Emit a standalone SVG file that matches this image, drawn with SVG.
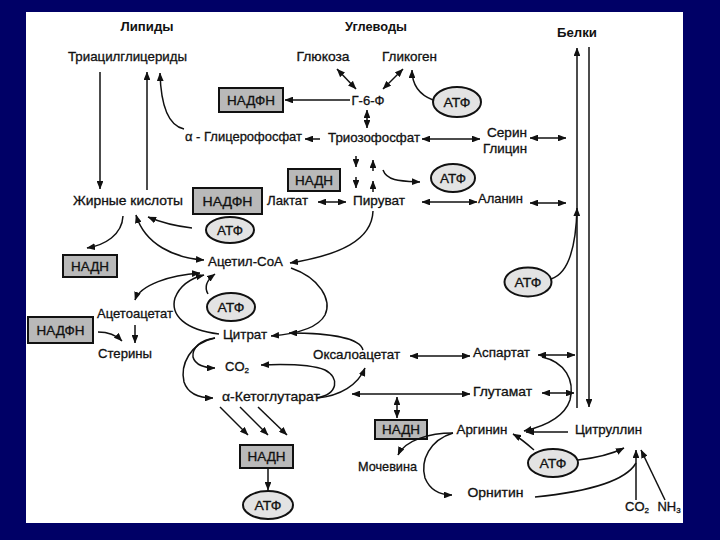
<svg xmlns="http://www.w3.org/2000/svg" width="720" height="540" viewBox="0 0 720 540">
<defs>
<marker id="ah" viewBox="0 0 10 8" refX="9.5" refY="4" markerWidth="8.5" markerHeight="6.8" markerUnits="userSpaceOnUse" orient="auto-start-reverse"><path d="M0,0 L10,4 L0,8 z" fill="#111"/></marker>
<style>
text{font-family:"Liberation Sans",Arial,sans-serif;font-size:13px;fill:#111;stroke:#111;stroke-width:0.3;text-anchor:middle}
.h{font-weight:bold;stroke-width:0}
.box{fill:#b9b9b9;stroke:#111;stroke-width:2}
.ell{fill:#e3e3e3;stroke:#111;stroke-width:2}
.c{fill:none;stroke:#111;stroke-width:1.5}
.e{marker-end:url(#ah)}
.d{marker-start:url(#ah);marker-end:url(#ah)}
</style>
</defs>
<rect x="0" y="0" width="720" height="540" fill="#000066"/>
<rect x="26" y="12" width="657" height="511" fill="#ffffff"/>

<g id="headers">
<text class="h" x="147" y="31" textLength="53" lengthAdjust="spacingAndGlyphs">Липиды</text>
<text class="h" x="376" y="31" textLength="62" lengthAdjust="spacingAndGlyphs">Углеводы</text>
<text class="h" x="577" y="37" textLength="40" lengthAdjust="spacingAndGlyphs">Белки</text>
</g>

<g id="n-triacyl"><text x="127.5" y="61" textLength="119" lengthAdjust="spacingAndGlyphs">Триацилглицериды</text></g>
<g id="n-glucose"><text x="323" y="61" textLength="53" lengthAdjust="spacingAndGlyphs">Глюкоза</text></g>
<g id="n-glycogen"><text x="409.5" y="61" textLength="55" lengthAdjust="spacingAndGlyphs">Гликоген</text></g>
<g id="n-g6p"><text x="368" y="105" textLength="33" lengthAdjust="spacingAndGlyphs">Г-6-Ф</text></g>
<g id="n-glycerophosphate"><text x="243.5" y="141" textLength="117" lengthAdjust="spacingAndGlyphs">α - Глицерофосфат</text></g>
<g id="n-triosephosphate"><text x="374" y="142" textLength="92" lengthAdjust="spacingAndGlyphs">Триозофосфат</text></g>
<g id="n-serine"><text x="507" y="137" textLength="40" lengthAdjust="spacingAndGlyphs">Серин</text><text x="505" y="153" textLength="44" lengthAdjust="spacingAndGlyphs">Глицин</text></g>
<g id="n-fattyacids"><text x="128" y="205" textLength="110" lengthAdjust="spacingAndGlyphs">Жирные кислоты</text></g>
<g id="n-lactate"><text x="287.5" y="205" textLength="41" lengthAdjust="spacingAndGlyphs">Лактат</text></g>
<g id="n-pyruvate"><text x="379" y="205" textLength="52" lengthAdjust="spacingAndGlyphs">Пируват</text></g>
<g id="n-alanine"><text x="500.5" y="203" textLength="45" lengthAdjust="spacingAndGlyphs">Аланин</text></g>
<g id="n-acetylcoa"><text x="245.5" y="266" textLength="75" lengthAdjust="spacingAndGlyphs">Ацетил-СоА</text></g>
<g id="n-acetoacetate"><text x="135" y="318" textLength="76" lengthAdjust="spacingAndGlyphs">Ацетоацетат</text></g>
<g id="n-sterols"><text x="125" y="358" textLength="54" lengthAdjust="spacingAndGlyphs">Стерины</text></g>
<g id="n-citrate"><text x="245" y="339" textLength="44" lengthAdjust="spacingAndGlyphs">Цитрат</text></g>
<g id="n-co2"><text x="237" y="371">CO<tspan font-size="8" dy="2">2</tspan></text></g>
<g id="n-oxaloacetate"><text x="356.5" y="359" textLength="87" lengthAdjust="spacingAndGlyphs">Оксалоацетат</text></g>
<g id="n-aspartate"><text x="501.5" y="357" textLength="57" lengthAdjust="spacingAndGlyphs">Аспартат</text></g>
<g id="n-ketoglutarate"><text x="271" y="401" textLength="98" lengthAdjust="spacingAndGlyphs">α-Кетоглутарат</text></g>
<g id="n-glutamate"><text x="502.5" y="396" textLength="59" lengthAdjust="spacingAndGlyphs">Глутамат</text></g>
<g id="n-arginine"><text x="482" y="434" textLength="51" lengthAdjust="spacingAndGlyphs">Аргинин</text></g>
<g id="n-citrulline"><text x="608.5" y="434" textLength="67" lengthAdjust="spacingAndGlyphs">Цитруллин</text></g>
<g id="n-urea"><text x="387.5" y="471" textLength="59" lengthAdjust="spacingAndGlyphs">Мочевина</text></g>
<g id="n-ornithine"><text x="495.5" y="497" textLength="56" lengthAdjust="spacingAndGlyphs">Орнитин</text></g>
<g id="n-co2b"><text x="637" y="511">CO<tspan font-size="8" dy="2">2</tspan></text></g>
<g id="n-nh3"><text x="669" y="511">NH<tspan font-size="8" dy="2">3</tspan></text></g>

<g id="b-nadph1"><rect class="box" x="219" y="88" width="64" height="24"/><text x="251" y="105" textLength="48" lengthAdjust="spacingAndGlyphs">НАДФН</text></g>
<g id="b-nadh1"><rect class="box" x="288" y="169" width="52" height="22"/><text x="314" y="185" textLength="38" lengthAdjust="spacingAndGlyphs">НАДН</text></g>
<g id="b-nadph2"><rect class="box" x="193" y="188" width="69" height="26"/><text x="227.5" y="206" textLength="50" lengthAdjust="spacingAndGlyphs">НАДФН</text></g>
<g id="b-nadh2"><rect class="box" x="63" y="255" width="54" height="22"/><text x="90" y="271" textLength="38" lengthAdjust="spacingAndGlyphs">НАДН</text></g>
<g id="b-nadph3"><rect class="box" x="28" y="317" width="65" height="26"/><text x="60.5" y="335" textLength="48" lengthAdjust="spacingAndGlyphs">НАДФН</text></g>
<g id="b-nadh3"><rect class="box" x="375" y="420" width="52" height="19"/><text x="401" y="434" textLength="38" lengthAdjust="spacingAndGlyphs">НАДН</text></g>
<g id="b-nadh4"><rect class="box" x="240" y="445" width="53" height="23"/><text x="266.5" y="461" textLength="38" lengthAdjust="spacingAndGlyphs">НАДН</text></g>

<g id="a-atp1"><ellipse class="ell" cx="457" cy="102" rx="24" ry="15"/><text x="457" y="107" textLength="27" lengthAdjust="spacingAndGlyphs">АТФ</text></g>
<g id="a-atp2"><ellipse class="ell" cx="453" cy="178" rx="22" ry="14"/><text x="453" y="183" textLength="26" lengthAdjust="spacingAndGlyphs">АТФ</text></g>
<g id="a-atp3"><ellipse class="ell" cx="230" cy="230" rx="24" ry="13"/><text x="230" y="235" textLength="26" lengthAdjust="spacingAndGlyphs">АТФ</text></g>
<g id="a-atp4"><ellipse class="ell" cx="528" cy="282" rx="23.5" ry="14.5"/><text x="528" y="287" textLength="27" lengthAdjust="spacingAndGlyphs">АТФ</text></g>
<g id="a-atp5"><ellipse class="ell" cx="231" cy="307" rx="24" ry="14"/><text x="231" y="312" textLength="27" lengthAdjust="spacingAndGlyphs">АТФ</text></g>
<g id="a-atp6"><ellipse class="ell" cx="553" cy="463" rx="25" ry="14"/><text x="553" y="468" textLength="27" lengthAdjust="spacingAndGlyphs">АТФ</text></g>
<g id="a-atp7"><ellipse class="ell" cx="268" cy="505" rx="25" ry="14"/><text x="268" y="510" textLength="27" lengthAdjust="spacingAndGlyphs">АТФ</text></g>

<g id="connectors">
<path class="c e" d="M100,72 L100,189"/>
<path class="c e" d="M147,190 L147,72"/>
<path class="c e" d="M184,129 C170,126 161,110 160,73"/>
<path class="c e" d="M350,100 L285,100"/>
<path class="c d" d="M337,69 L356,89"/>
<path class="c d" d="M403,69 L383,89"/>
<path class="c e" d="M433,100 C420,95 412,86 412,70"/>
<path class="c d" d="M367,110 L367,128"/>
<path class="c e" d="M320,139 L305,139"/>
<path class="c d" d="M422,139 L480,139"/>
<path class="c d" d="M530,138 L566,138"/>
<path class="c e" d="M356,156 L356,167"/>
<path class="c e" d="M373,171 L373,160"/>
<path class="c e" d="M356,177 L356,188"/>
<path class="c e" d="M373,192 L373,181"/>
<path class="c e" d="M383,170 C387,181 400,181 420,182"/>
<path class="c d" d="M318,202 L346,202"/>
<path class="c d" d="M422,202 L477,202"/>
<path class="c d" d="M530,203 L566,203"/>
<path class="c e" d="M373,211 C372,240 340,255 290,263"/>
<path class="c e" d="M577,408 L577,48"/>
<path class="c e" d="M589,47 L589,407"/>
<path class="c e" d="M551,279 C567,274 576,250 577,208"/>
<path class="c e" d="M123,216 C122,235 105,245 87,248"/>
<path class="c e" d="M192,228 C175,226 160,222 148,217"/>
<path class="c d" d="M136,215 C145,245 175,258 204,260"/>
<path class="c d" d="M135,300 C140,285 170,275 200,273"/>
<path class="c e" d="M219,334 C185,330 170,315 175,298 C180,285 192,278 204,275"/>
<path class="c e" d="M208,294 C204,287 207,280 215,274"/>
<path class="c e" d="M135,325 L135,343"/>
<path class="c e" d="M98,332 C108,332 116,335 122,341"/>
<path class="c e" d="M291,268 C320,278 332,300 325,315 C318,328 295,334 271,336"/>
<path class="c e" d="M363,350 C360,338 330,333 289,333"/>
<path class="c e" d="M215,338 C200,340 192,348 193,357 C195,365 205,368 215,368"/>
<path class="c e" d="M215,338 C190,343 180,365 184,382 C188,394 200,398 213,398"/>
<path class="c e" d="M317,398 C338,394 340,378 325,370 C310,364 285,364 261,365"/>
<path class="c e" d="M317,398 C340,396 358,385 365,368"/>
<path class="c d" d="M410,356 L470,356"/>
<path class="c d" d="M538,355 L575,355"/>
<path class="c d" d="M352,394 L470,394"/>
<path class="c d" d="M542,393 L574,393"/>
<path class="c d" d="M397,397 L397,418"/>
<path class="c e" d="M220,407 L248,435"/>
<path class="c e" d="M240,407 L268,435"/>
<path class="c e" d="M258,407 L287,435"/>
<path class="c e" d="M268,468 L268,490"/>
<path class="c e" d="M542,357 C565,362 575,380 570,400 C565,415 550,425 524,431"/>
<path class="c e" d="M568,432 L526,432"/>
<path class="c e" d="M534,450 C526,443 520,438 513,434"/>
<path class="c e" d="M578,460 C595,458 610,455 624,448"/>
<path class="c" d="M535,497 C585,492 625,482 636,463"/>
<path class="c e" d="M636,500 L636,450"/>
<path class="c e" d="M665,500 L641,450"/>
<path class="c e" d="M453,433 C430,433 405,440 398,455"/>
<path class="c e" d="M453,433 C430,440 420,460 425,478 C430,490 440,495 452,495"/>
</g>
</svg>
